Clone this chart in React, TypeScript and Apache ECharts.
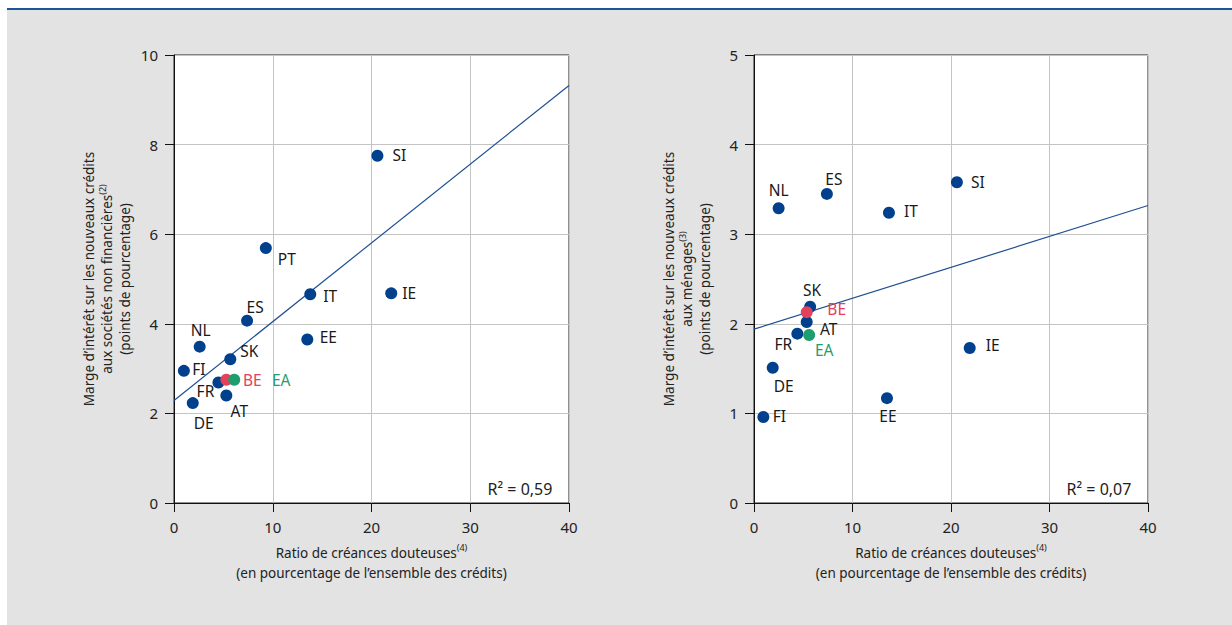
import React, { useEffect, useRef } from 'react';
import * as echarts from 'echarts';

// Left panel: non-financial corporations
const countriesNFC = ['SI', 'PT', 'IT', 'IE', 'ES', 'EE', 'NL', 'SK', 'FI', 'FR', 'AT', 'DE', 'BE', 'EA'];
const nplNFC = [20.6, 9.3, 13.8, 22.0, 7.4, 13.5, 2.6, 5.7, 1.0, 4.5, 5.3, 1.9, 5.3, 6.1];
const marginNFC = [7.75, 5.69, 4.66, 4.68, 4.07, 3.65, 3.49, 3.21, 2.95, 2.69, 2.4, 2.23, 2.75, 2.75];
const fitNFC = [2.29, 9.32]; // fitted value at x = 0 and x = 40
const r2NFC = '0,59';

// Right panel: households
const countriesHH = ['NL', 'ES', 'SI', 'IT', 'SK', 'AT', 'FR', 'DE', 'FI', 'EE', 'IE', 'EA', 'BE'];
const nplHH = [2.5, 7.4, 20.6, 13.7, 5.7, 5.35, 4.4, 1.9, 0.95, 13.5, 21.9, 5.6, 5.35];
const marginHH = [3.29, 3.45, 3.58, 3.24, 2.19, 2.02, 1.89, 1.51, 0.96, 1.17, 1.73, 1.875, 2.13];
const fitHH = [1.94, 3.32];
const r2HH = '0,07';

const xTicks = [0, 10, 20, 30, 40];

const BLUE = '#00408c';
const RED = '#e2425c';
const GREEN = '#1f9e6d';
const FONT = 'Noto Sans';

const offsetsNFC: Record<string, number[]> = {
  SI: [22, -1], PT: [21, 11], IT: [20, 2], IE: [18, 0], ES: [8, -14], EE: [21, -2],
  NL: [1, -17], SK: [19, -8], FI: [15, -2], FR: [-13, 9], BE: [26, 0], EA: [47, 0],
  AT: [13, 16], DE: [11, 20],
};
const offsetsHH: Record<string, number[]> = {
  NL: [0, -18], ES: [7, -15], SI: [21, 0], IT: [22, -2], SK: [2, -17], BE: [30, -3],
  AT: [22, 7], FR: [-14, 10], EA: [15, 15], DE: [11, 18], FI: [16, -1], EE: [1, 18], IE: [23, -3],
};

function colorFor(c: string) {
  if (c === 'BE') return RED;
  if (c === 'EA') return GREEN;
  return BLUE;
}
function labelColorFor(c: string) {
  if (c === 'BE') return RED;
  if (c === 'EA') return GREEN;
  return '#1a1a1a';
}

function buildData(countries: string[], xs: number[], ys: number[], offs: Record<string, number[]>) {
  return countries.map((c, i) => ({
    name: c,
    value: [xs[i], ys[i]],
    itemStyle: { color: colorFor(c), opacity: 1 },
    label: { offset: offs[c], color: labelColorFor(c) },
  }));
}

const supRich = {
  sup: { fontSize: 9, lineHeight: 10, verticalAlign: 'top', fontFamily: FONT, color: '#222' },
};

function xAxisCfg(gridIndex: number) {
  return {
    type: 'value',
    gridIndex,
    min: 0,
    max: 40,
    interval: 10,
    axisLine: { show: true, lineStyle: { color: '#111', width: 1 } },
    axisTick: { show: true, inside: false, length: 9, lineStyle: { color: '#111' } },
    axisLabel: { margin: 16, fontSize: 15, color: '#222', fontFamily: FONT },
    splitLine: { show: true, lineStyle: { color: '#c4c4c4', width: 1 } },
    name: 'Ratio de créances douteuses{sup|(4)}\n(en pourcentage de l’ensemble des crédits)',
    nameLocation: 'middle',
    nameGap: 40,
    nameTextStyle: { fontSize: 13.5, lineHeight: 20, color: '#222', fontFamily: FONT, rich: supRich },
  };
}

function yAxisCfg(gridIndex: number, max: number, interval: number, name: string) {
  return {
    type: 'value',
    gridIndex,
    min: 0,
    max,
    interval,
    axisLine: { show: true, lineStyle: { color: '#111', width: 1 } },
    axisTick: { show: true, inside: false, length: 9, lineStyle: { color: '#111' } },
    axisLabel: { margin: 16, fontSize: 15, color: '#222', fontFamily: FONT },
    splitLine: { show: true, lineStyle: { color: '#c4c4c4', width: 1 } },
    name,
    nameLocation: 'middle',
    nameRotate: 90,
    nameGap: 40,
    nameTextStyle: { fontSize: 13.5, lineHeight: 18, color: '#222', fontFamily: FONT, rich: supRich },
  };
}

function scatterSeries(idx: number, data: any[]) {
  return {
    type: 'scatter',
    xAxisIndex: idx,
    yAxisIndex: idx,
    symbolSize: 12,
    z: 3,
    itemStyle: { opacity: 1 },
    label: {
      show: true,
      position: 'inside',
      formatter: '{b}',
      fontSize: 15.5,
      lineHeight: 17,
      fontFamily: FONT,
    },
    data,
  };
}

function fitSeries(idx: number, fit: number[]) {
  return {
    type: 'line',
    xAxisIndex: idx,
    yAxisIndex: idx,
    symbol: 'none',
    z: 2,
    lineStyle: { color: '#1f4f92', width: 1.2 },
    data: [[xTicks[0], fit[0]], [xTicks[xTicks.length - 1], fit[1]]],
  };
}

export default function App() {
  const ref = useRef<HTMLDivElement>(null);
  useEffect(() => {
    if (!ref.current) return;
    const chart = echarts.init(ref.current, null, { renderer: 'svg' });
    const option = {
      animation: false,
      backgroundColor: '#ffffff',
      textStyle: { fontFamily: FONT },
      grid: [
        { left: 174, top: 55, width: 395, height: 448, show: true, backgroundColor: '#ffffff', borderColor: '#222', borderWidth: 1 },
        { left: 754, top: 55, width: 394, height: 448, show: true, backgroundColor: '#ffffff', borderColor: '#222', borderWidth: 1 },
      ],
      xAxis: [xAxisCfg(0), xAxisCfg(1)],
      yAxis: [
        yAxisCfg(0, 10, 2, 'Marge d’intérêt sur les nouveaux crédits\naux sociétés non financières{sup|(2)}\n(points de pourcentage)'),
        yAxisCfg(1, 5, 1, 'Marge d’intérêt sur les nouveaux crédits\naux ménages{sup|(3)}\n(points de pourcentage)'),
      ],
      graphic: [
        { type: 'rect', z: -10, silent: true, shape: { x: 7, y: 10, width: 1225, height: 615 }, style: { fill: '#e3e3e3' } },
        { type: 'rect', z: -9, silent: true, shape: { x: 7, y: 8, width: 1225, height: 2 }, style: { fill: '#1e5598' } },
        { type: 'rect', z: 10, silent: true, shape: { x: 471, y: 474, width: 97, height: 28 }, style: { fill: '#ffffff' } },
        { type: 'text', z: 11, silent: true, x: 520, y: 489, style: { text: 'R² = ' + r2NFC, fontSize: 16, fontFamily: FONT, fill: '#222', align: 'center', verticalAlign: 'middle' } },
        { type: 'rect', z: 10, silent: true, shape: { x: 1050, y: 474, width: 97, height: 28 }, style: { fill: '#ffffff' } },
        { type: 'text', z: 11, silent: true, x: 1099, y: 489, style: { text: 'R² = ' + r2HH, fontSize: 16, fontFamily: FONT, fill: '#222', align: 'center', verticalAlign: 'middle' } },
      ],
      series: [
        fitSeries(0, fitNFC),
        scatterSeries(0, buildData(countriesNFC, nplNFC, marginNFC, offsetsNFC)),
        fitSeries(1, fitHH),
        scatterSeries(1, buildData(countriesHH, nplHH, marginHH, offsetsHH)),
      ],
    };
    chart.setOption(option as any);
    return () => chart.dispose();
  }, []);
  return (
    <div
      ref={ref}
      style={{ position: 'absolute', left: 0, top: 0, width: 1232, height: 625 }}
    />
  );
}
